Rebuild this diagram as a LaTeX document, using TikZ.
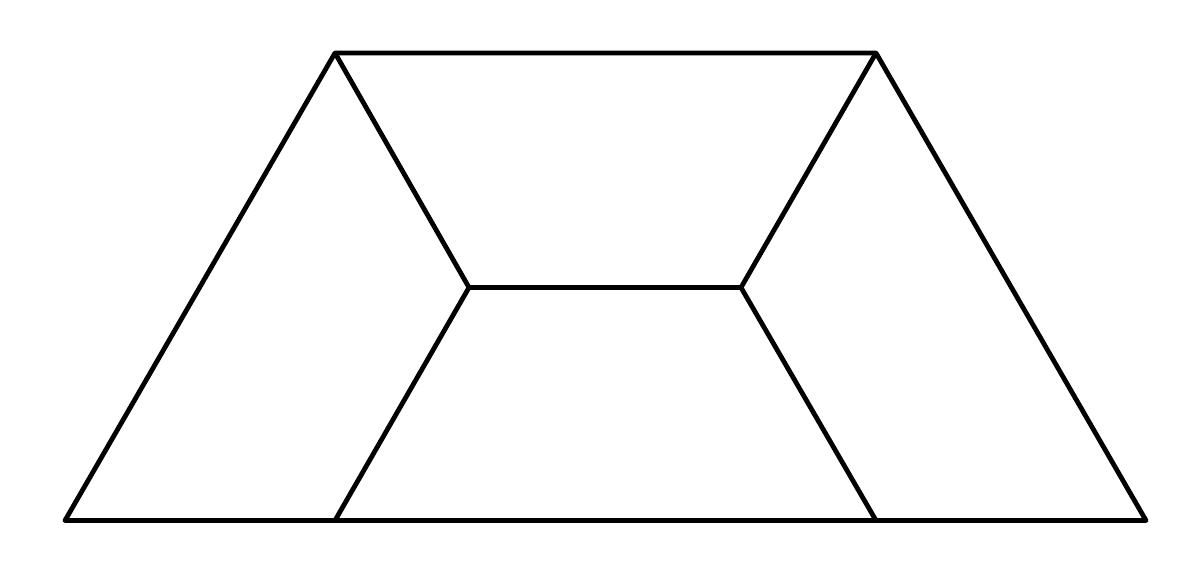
\documentclass[tikz,border=0pt]{standalone}
\begin{document}
\begin{tikzpicture}[x=0.75pt,y=-0.75pt,edge/.style={line width=3.6pt,line cap=butt,line join=round,black}]
\useasboundingbox (0,0) rectangle (1196,579);
\coordinate (BL) at (65,520.5);
\coordinate (BR) at (1146,520.5);
\coordinate (TL) at (335,53);
\coordinate (TR) at (876,53);
\coordinate (IL) at (469,287.5);
\coordinate (IR) at (741,287.5);
\coordinate (BIL) at (335,520.5);
\coordinate (BIR) at (876,520.5);
\draw[edge] (BL) -- (TL) -- (TR) -- (BR) -- cycle;
\draw[edge] (TL) -- (IL) -- (IR) -- (TR);
\draw[edge] (IL) -- (BIL);
\draw[edge] (IR) -- (BIR);
\end{tikzpicture}
\end{document}
